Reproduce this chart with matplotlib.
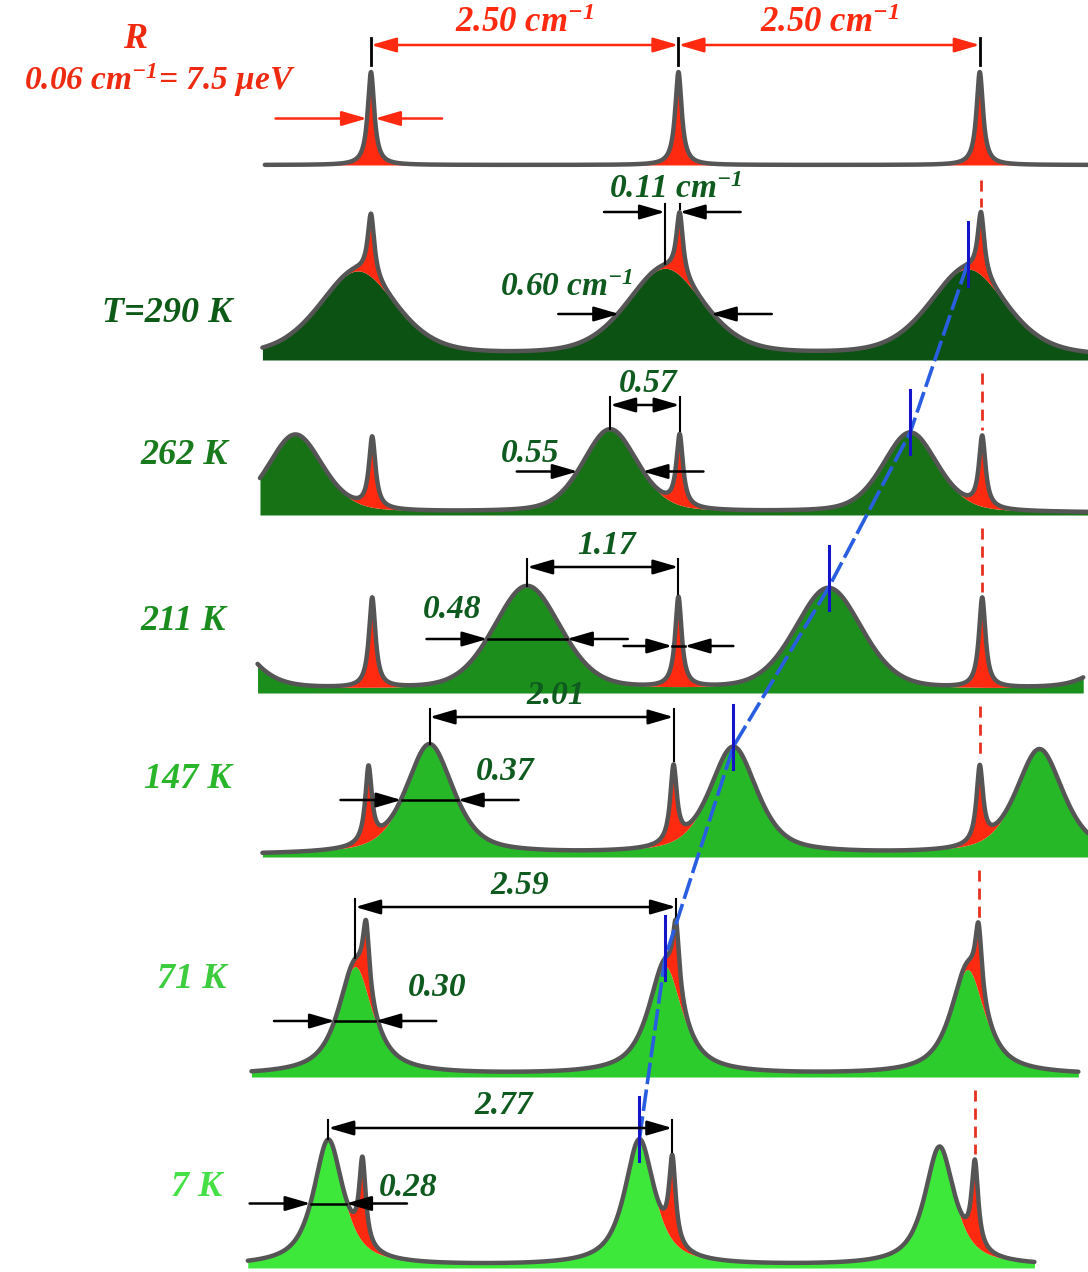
import numpy as np
import matplotlib.pyplot as plt

plt.rcParams['font.family'] = ['Liberation Serif', 'DejaVu Serif']
plt.rcParams['mathtext.fontset'] = 'custom'
plt.rcParams['mathtext.rm'] = 'Liberation Serif:italic:bold'
plt.rcParams['mathtext.it'] = 'Liberation Serif:italic:bold'
plt.rcParams['mathtext.bf'] = 'Liberation Serif:italic:bold'

# ---- data (positions in cm^-1, intensities in a.u.) ----
# rows from top to bottom: reference R, then the sample temperatures
row_labels = ['R', 'T=290 K', '262 K', '211 K', '147 K', '71 K', '7 K']
ref_pos = [[0.0, 2.52, 4.99],
           [0.0, 2.53, 5.00],
           [0.01, 2.53, 5.01],
           [0.01, 2.52, 5.01],
           [-0.02, 2.48, 4.99],
           [-0.04, 2.50, 4.98],
           [-0.07, 2.47, 4.95]]
ref_amp = [0.93, 0.63, 0.71, 0.90, 0.76, 0.70, 0.85]
ref_fwhm = 0.065

green_pos = [[],
             [-0.11, 2.41, 4.89],
             [-0.62, 1.96, 4.42],
             [-1.40, 1.28, 3.75, 6.45],
             [0.48, 2.97, 5.48],
             [-0.13, 2.41, 4.89],
             [-0.35, 2.20, 4.66]]
green_amp = [[],
             [0.86, 0.88, 0.88],
             [0.78, 0.83, 0.80],
             [1.00, 1.04, 1.02, 1.00],
             [1.10, 1.07, 1.05],
             [1.08, 1.08, 1.05],
             [1.25, 1.25, 1.18]]
green_fwhm = [0.0, 0.75, 0.53, 0.65, 0.46, 0.33, 0.29]
green_eta = [0.0, 0.45, 0.35, 0.3, 0.6, 0.85, 0.85]

x_start = [-0.87, -0.89, -0.91, -0.93, -0.89, -0.98, -1.01]
x_end = [5.88, 5.88, 5.88, 5.84, 5.88, 5.80, 5.44]

shift_text = ['2.50', '0.11', '0.57', '1.17', '2.01', '2.59', '2.77']
width_text = ['0.06', '0.60', '0.55', '0.48', '0.37', '0.30', '0.28']
shift_idx = [None, 1, 1, 1, 0, 0, 0]   # green peak measured against ref peak 1
trace_idx = [None, 2, 2, 2, 1, 1, 1]   # green peak followed by the blue line

# ---- layout ----
PX = 122.0      # pixels per cm^-1
X0 = 371.0      # pixel of the first reference line
W, H = 1088, 1272
baseline = [165, 358, 513, 691, 855, 1075, 1266]
scale = 100.0
shift_y = [45, 212, 405, 567, 717, 907, 1128]
label_xy = [(135, 40), (232, 313), (228, 455), (226, 622), (232, 780), (226, 980), (222, 1188)]
wlabel_xy = [None, (567, 287), (530, 453), (452, 610), (505, 772), (437, 987), (408, 1187)]
fwhm_through = [False, False, False, True, True, True, True]

fill_col = [None, '#0c5212', '#177216', '#1c8e1c', '#27b827', '#2ccc2c', '#3ee83a']
lab_col = ['#ee2a10', '#0d5a17', '#187a1c', '#1a8c1e', '#2ab62a', '#3dcc3d', '#45e045']
num_col = '#0f5a1f'
red = '#ff2a10'
gray = '#555555'


def cm(p):
    return (p - X0) / PX


def pv(x, x0, fwhm, eta):
    d = (x - x0) / (fwhm / 2.0)
    return eta / (1.0 + d * d) + (1.0 - eta) * np.exp(-np.log(2.0) * d * d)


def arrow(ax, x1, y1, x2, y2, color='black', style='-|>'):
    ax.annotate('', xy=(x2, y2), xytext=(x1, y1),
                arrowprops=dict(arrowstyle=style + ',head_length=0.55,head_width=0.16',
                                color=color, lw=1.8, shrinkA=0, shrinkB=0,
                                mutation_scale=28))


fig = plt.figure(figsize=(W / 100, H / 100), dpi=100)
ax = fig.add_axes([0, 0, 1, 1])
ax.set_xlim(cm(0), cm(W))
ax.set_ylim(H, 0)
ax.axis('off')

green_top = {}
for i in range(len(row_labels)):
    x = np.arange(x_start[i], x_end[i], 0.002)
    g = np.zeros_like(x)
    for p, a in zip(green_pos[i], green_amp[i]):
        g += a * pv(x, p, green_fwhm[i], green_eta[i])
    r = np.zeros_like(x)
    for p in ref_pos[i]:
        r += ref_amp[i] * pv(x, p, ref_fwhm, 1.0)
    yb = baseline[i]
    yg = yb - scale * g
    yt = yb - scale * (g + r)
    if i > 0:
        ax.fill_between(x, yb + 2, yg, color=fill_col[i], lw=0)
    ax.fill_between(x, yg, yt, color=red, lw=0)
    ax.plot(x, yt, color=gray, lw=3.2, solid_capstyle='round')

    def total(xx):
        gg = sum(a * pv(xx, p, green_fwhm[i], green_eta[i])
                 for p, a in zip(green_pos[i], green_amp[i])) if i > 0 else 0.0
        rr = sum(ref_amp[i] * pv(xx, p, ref_fwhm, 1.0) for p in ref_pos[i])
        return yb - scale * (gg + rr)

    # temperature / R label
    if i == 0:
        ax.text(cm(label_xy[0][0]), label_xy[0][1], 'R', color=lab_col[0], fontsize=26,
                fontweight='bold', style='italic', ha='center', va='center')
        ax.text(cm(160), 80, '0.06 cm$^{-1}$= 7.5 μeV', color=lab_col[0], fontsize=24,
                fontweight='bold', style='italic', ha='center', va='center')
    else:
        ax.text(cm(label_xy[i][0]), label_xy[i][1], row_labels[i], color=lab_col[i],
                fontsize=26, fontweight='bold', style='italic', ha='right', va='center')

    # red dashed guide above the last reference line
    if i > 0:
        xr = ref_pos[i][2]
        ax.plot([xr, xr], [baseline[i - 1] + 15, total(xr) - 5], color='#e83020',
                lw=2, ls=(0, (4, 2.5)))

    if i == 0:
        # 2.50 cm-1 spacing arrows
        for k in range(2):
            arrow(ax, ref_pos[0][k], shift_y[0], ref_pos[0][k + 1], shift_y[0],
                  color=red, style='<|-|>')
            ax.text((ref_pos[0][k] + ref_pos[0][k + 1]) / 2, shift_y[0] - 22,
                    shift_text[0] + ' cm$^{-1}$', color=red, fontsize=25,
                    fontweight='bold', style='italic', ha='center', va='center')
        for p in ref_pos[0]:
            ax.plot([p, p], [shift_y[0] - 7, shift_y[0] + 20], color='black', lw=2)
        # resolution arrows
        hw = ref_fwhm / 2
        yh = baseline[0] - scale * ref_amp[0] / 2
        arrow(ax, -hw - 0.75, yh, -hw, yh, color=red)
        arrow(ax, hw + 0.55, yh, hw, yh, color=red)
        continue

    # shift between green peak and reference peak
    gp = green_pos[i][shift_idx[i]]
    rp = ref_pos[i][1]
    gtop = total(gp)
    rtop = total(rp)
    ys = shift_y[i]
    ax.plot([gp, gp], [ys - 8, gtop], color='black', lw=1.5)
    ax.plot([rp, rp], [ys - 8, rtop - 3], color='black', lw=1.5)
    if i == 1:
        arrow(ax, gp - 0.5, ys, gp, ys)
        arrow(ax, rp + 0.5, ys, rp, ys)
        txt = shift_text[i] + ' cm$^{-1}$'
    else:
        arrow(ax, gp, ys, rp, ys, style='<|-|>')
        txt = shift_text[i]
    ax.text((gp + rp) / 2 + 0.03, ys - 22, txt, color=num_col, fontsize=24,
            fontweight='bold', style='italic', ha='center', va='center')

    # FWHM arrows on the green peak
    hw = green_fwhm[i] / 2
    amp = green_amp[i][shift_idx[i]]
    yh = baseline[i] - scale * amp / 2
    arrow(ax, gp - hw - 0.5, yh, gp - hw, yh)
    arrow(ax, gp + hw + 0.5, yh, gp + hw, yh)
    if fwhm_through[i]:
        ax.plot([gp - hw, gp + hw], [yh, yh], color='black', lw=1.8)
    wtxt = width_text[i] + (' cm$^{-1}$' if i == 1 else '')
    ax.text(cm(wlabel_xy[i][0]), wlabel_xy[i][1], wtxt, color=num_col, fontsize=24,
            fontweight='bold', style='italic', ha='center', va='center')

    # small resolution arrows on the reference line at 211 K
    if i == 3:
        yr = baseline[i] - scale * ref_amp[i] / 2
        arrow(ax, rp - 0.45, yr, rp - 0.05, yr)
        arrow(ax, rp + 0.45, yr, rp + 0.05, yr)
        ax.plot([rp - 0.05, rp + 0.05], [yr, yr], color='black', lw=1.8)

    tp = green_pos[i][trace_idx[i]]
    green_top[i] = (tp, total(tp))

# blue trace of the shifting line
tx = [green_top[i][0] for i in range(1, 7)]
ty = [green_top[i][1] for i in range(1, 7)]
ax.plot(tx, ty, color='#2a5ee0', lw=2.6, ls=(0, (6, 1.5)))
for xx, yy in zip(tx, ty):
    ax.plot([xx, xx], [yy - 42, yy + 22], color='#1414c8', lw=2.2)

fig.savefig('out.png', dpi=100)
